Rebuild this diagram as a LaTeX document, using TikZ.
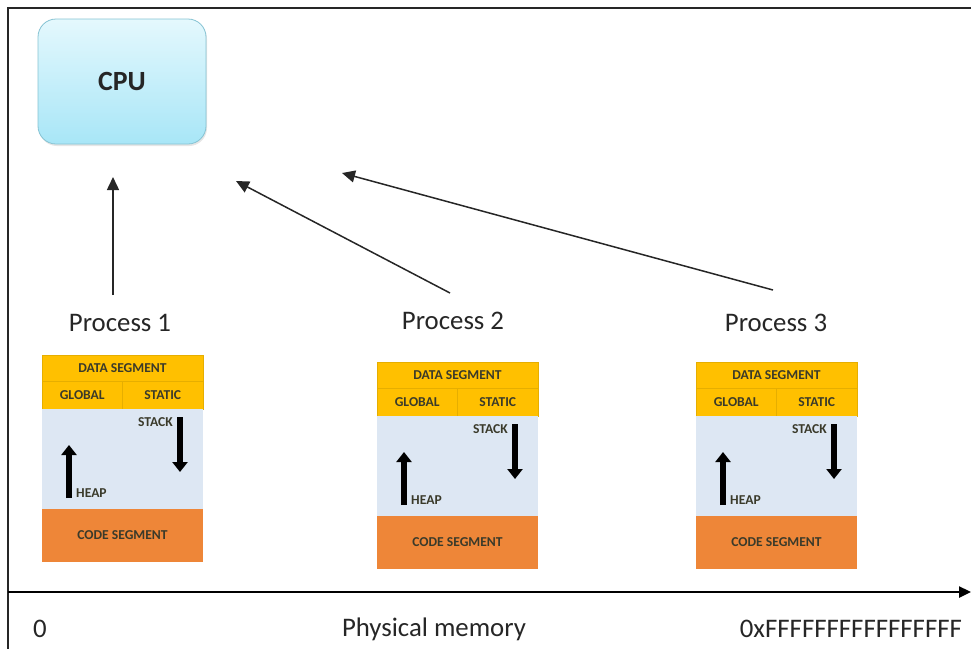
\documentclass[tikz,border=0pt]{standalone}
\usepackage{fontspec}
\setmainfont{Carlito}
\usetikzlibrary{arrows.meta,positioning,shadows}
\definecolor{segyellow}{HTML}{FFC000}
\definecolor{segline}{HTML}{E6AE00}
\definecolor{segblue}{HTML}{DDE7F3}
\definecolor{segorange}{HTML}{EE8638}
\definecolor{segtext}{HTML}{3A3A2A}
\definecolor{cputop}{HTML}{E4F8FD}
\definecolor{cpubottom}{HTML}{A8E6F7}
\definecolor{cpuline}{HTML}{86C3D3}
\definecolor{labeltext}{HTML}{262626}
\tikzset{
  frameline/.style={line width=2pt, draw=black!85},
  cpubox/.style={draw=cpuline, line width=0.8pt, rounded corners=18pt,
    top color=cputop, bottom color=cpubottom, minimum width=168pt, minimum height=125pt,
    drop shadow={opacity=0.2, shadow xshift=1pt, shadow yshift=-2pt},
    font=\bfseries\fontsize{27.8}{27.8}\selectfont, text=labeltext},
  proc/.style={font=\fontsize{26.8}{26.8}\selectfont, text=labeltext, inner sep=0pt},
  seg/.style={draw=segline, line width=0.5pt, inner sep=0pt, outer sep=0pt, anchor=north west,
    font=\bfseries\fontsize{13.6}{13.6}\selectfont, text=segtext},
  seglabel/.style={font=\bfseries\fontsize{13.6}{13.6}\selectfont, text=segtext, inner sep=0pt},
  growarrow/.style={line width=6.5pt, black, -{Triangle[length=10pt, width=15pt]}},
  link/.style={line width=1.5pt, black!85, -{Triangle[length=13pt, width=12pt]}},
  axisline/.style={line width=2.4pt, black, -{Triangle[length=12pt, width=11pt]}}
}
\begin{document}
\begin{tikzpicture}[x=1pt, y=-1pt]
\useasboundingbox (0,0) rectangle (971,649);
% frame
\draw[frameline] (971,8) -- (8,8) -- (8,649);
\node[cpubox] (cpu) at (122,81.5) {CPU};
\node[proc] (p1) at (120,323) {Process 1};
\node[proc] (p2) at (453,321) {Process 2};
\node[proc] (p3) at (776,323) {Process 3};
% memory layout of each process
\foreach \n/\bx/\by in {1/42/355, 2/377/362, 3/696/362}{
  \begin{scope}[shift={(\bx,\by)}]
    \node[seg, fill=segyellow, minimum width=161pt, minimum height=26pt] (data\n) at (0,0) {DATA SEGMENT};
    \node[seg, fill=segyellow, minimum width=80.5pt, minimum height=28pt] (glob\n) at (0,26) {GLOBAL};
    \node[seg, fill=segyellow, minimum width=80.5pt, minimum height=28pt, right=0pt of glob\n] (stat\n) {STATIC};
    \node[seg, draw=none, fill=segblue, minimum width=161pt, minimum height=100pt] (free\n) at (0,54) {};
    \node[seg, draw=none, fill=segorange, minimum width=161pt, minimum height=53pt] (code\n) at (0,154) {CODE SEGMENT};
    \draw[growarrow] (138,62) -- (138,117);
    \node[seglabel, anchor=east] (stack\n) at (131,67) {STACK};
    \draw[growarrow] (27,143) -- (27,90);
    \node[seglabel, anchor=west] (heap\n) at (34,138) {HEAP};
  \end{scope}
}
% connectors to the cpu
\coordinate (s1) at (113,295);
\coordinate (t1) at (113,177);
\coordinate (s2) at (450,293);
\coordinate (t2) at (236,181);
\coordinate (s3) at (773,290);
\coordinate (t3) at (342,173);
\draw[link] (s1) -- (t1);
\draw[link] (s2) -- (t2);
\draw[link] (s3) -- (t3);
% physical memory axis
\coordinate (m0) at (8,592);
\coordinate (m1) at (971,592);
\draw[axisline] (m0) -- (m1);
\node[proc] (lo) at (40,629) {0};
\node[proc] (mem) at (434,629) {Physical memory};
\node[proc] (hi) at (851,629) {0xFFFFFFFFFFFFFFFF};
\end{tikzpicture}
\end{document}
